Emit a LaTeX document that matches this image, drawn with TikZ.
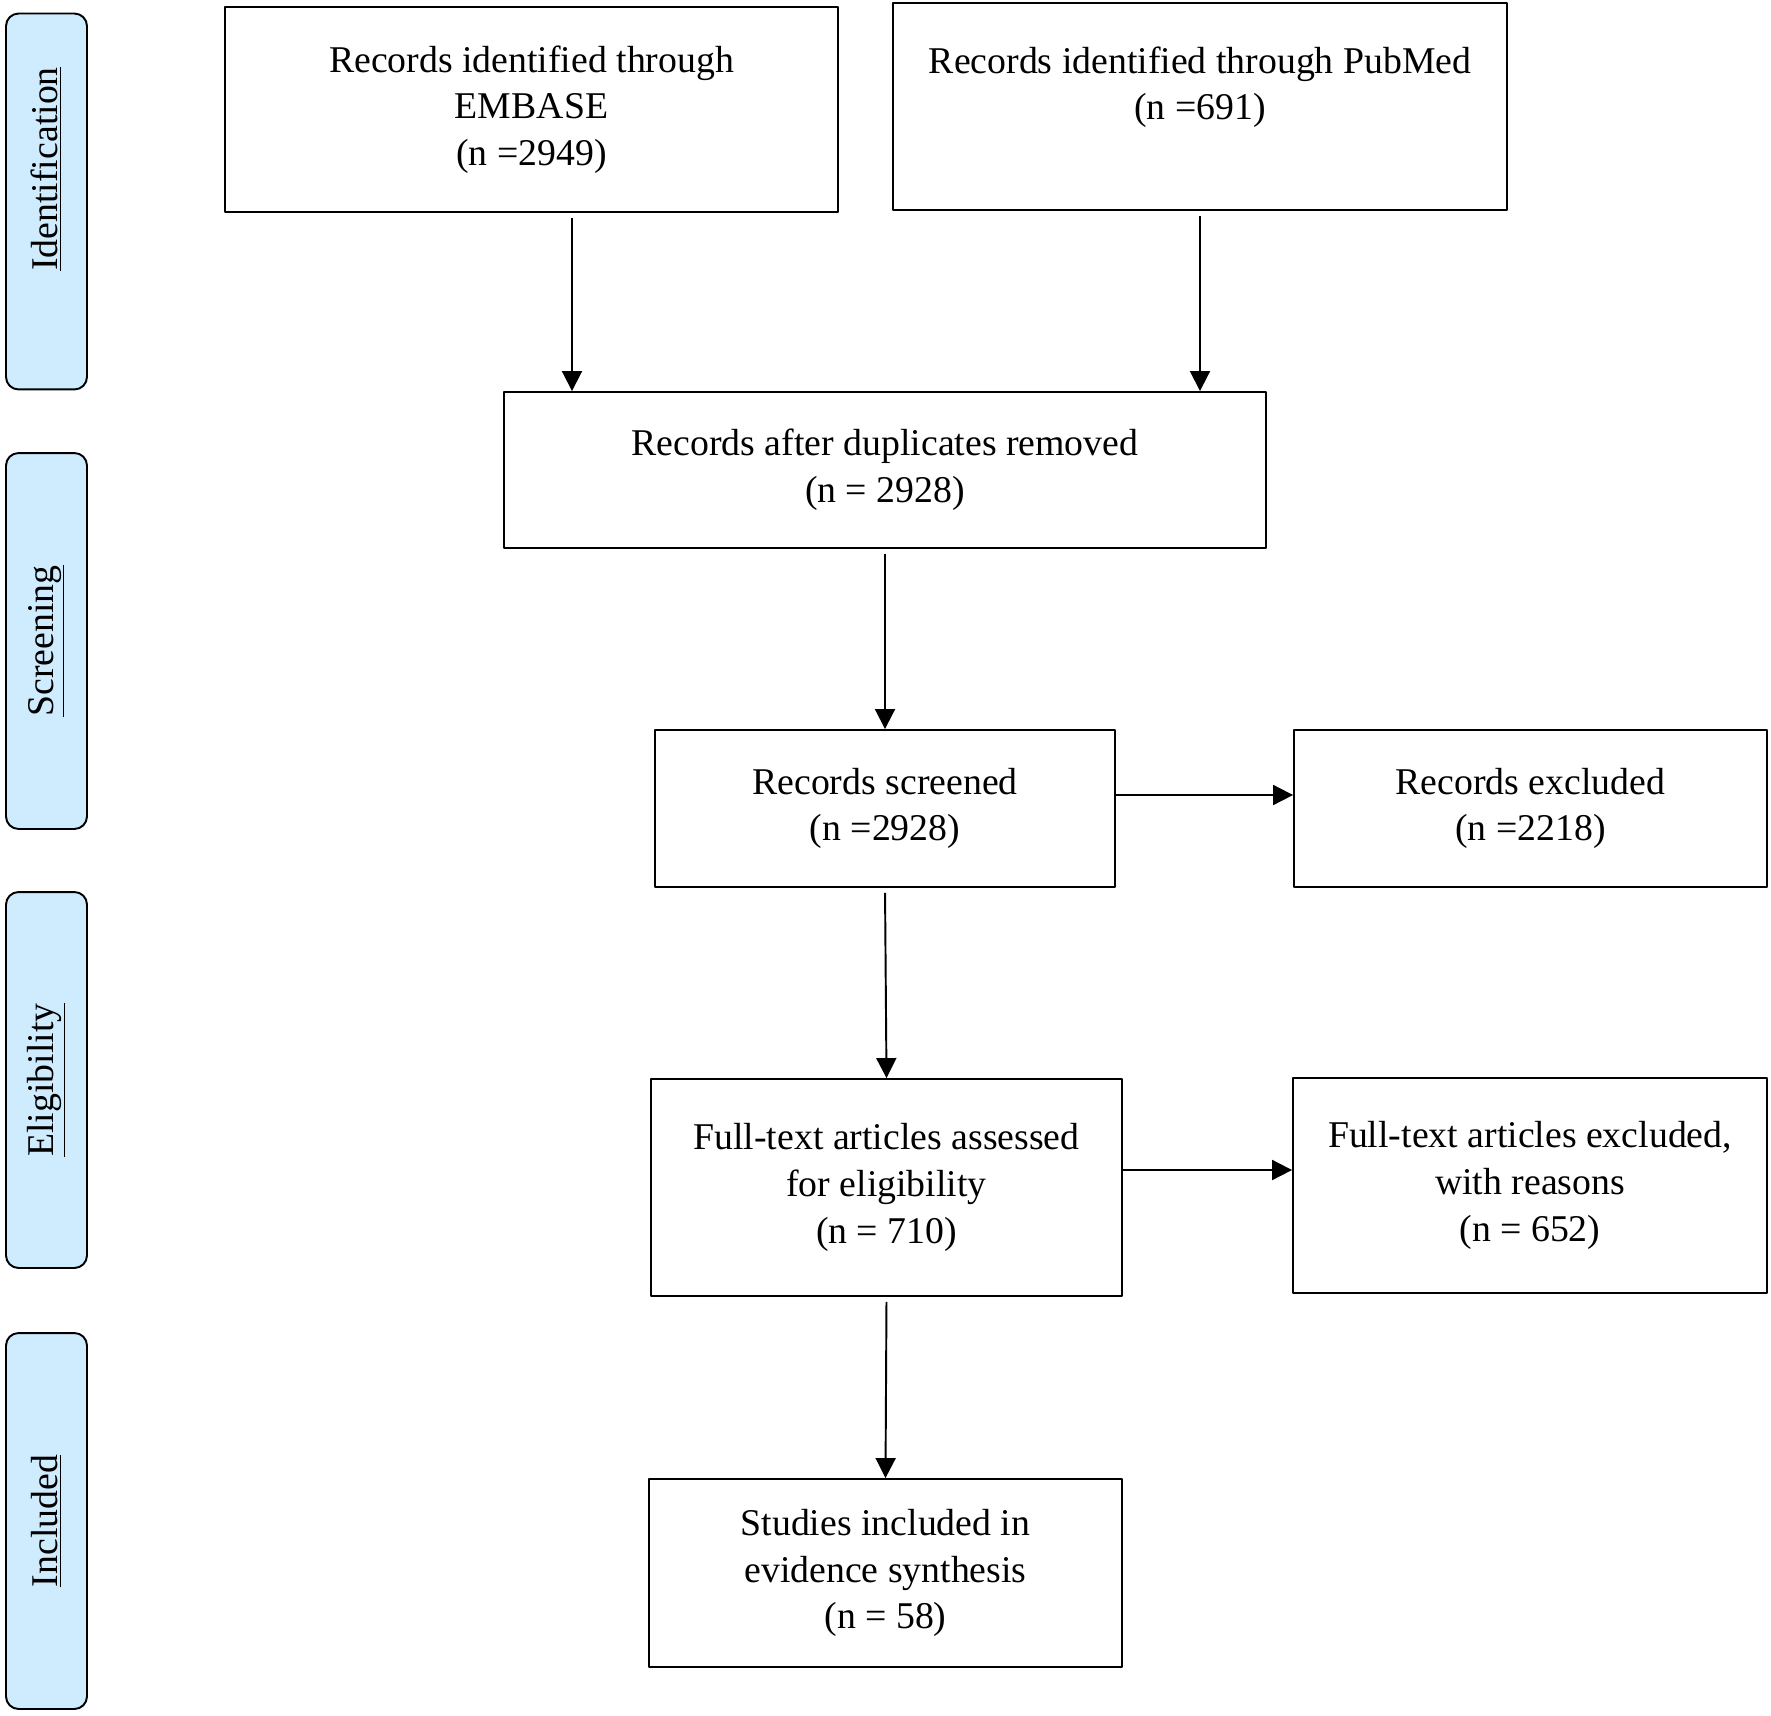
\documentclass[tikz,border=0pt]{standalone}
\usepackage{fontspec}
\setmainfont{Liberation Serif}
\usetikzlibrary{arrows.meta}
\definecolor{phase}{RGB}{207,236,255}
\begin{document}
\begin{tikzpicture}[x=0.02cm, y=-0.02cm, line join=round, >={Triangle[length=0.4cm,width=0.4cm]},
	box/.style={draw, line width=1.1pt, align=center, inner sep=0pt, font=\fontsize{21.5}{26.6}\selectfont},
	phasebox/.style={draw, line width=1.1pt, fill=phase, rounded corners=0.25cm, rotate=90, minimum width=7.52cm, minimum height=1.62cm, inner sep=0pt, font=\fontsize{21.5}{26.6}\selectfont},
	arr/.style={->, line width=1.1pt}]
	\useasboundingbox (0,0) rectangle (1771,1716);
	\foreach \y/\s/\n/\t in {201.5/1.3cm/ident/Identification, 641/0cm/scr/Screening, 1080/0cm/elig/Eligibility, 1521/0cm/incl/Included}
		\node[phasebox] (\n) at (46.5,\y) {\hspace*{\s}\underline{\t}};
	\node[box, minimum width=12.26cm, minimum height=4.1cm] (embase) at (531.5,109.5) {Records identified through\\EMBASE\\(n =2949)};
	\node[box, minimum width=12.28cm, minimum height=4.14cm] (pubmed) at (1200,106.5) {Records identified through PubMed\\(n =691)\\\mbox{}};
	\node[box, minimum width=15.24cm, minimum height=3.12cm] (dup) at (885,470) {Records after duplicates removed\\(n = 2928)};
	\node[box, minimum width=9.2cm, minimum height=3.14cm] (screened) at (885,808.5) {Records screened\\(n =2928)};
	\node[box, minimum width=9.46cm, minimum height=3.14cm] (excluded) at (1530.5,808.5) {Records excluded\\(n =2218)};
	\node[box, minimum width=9.42cm, minimum height=4.34cm] (fulltext) at (886.5,1187.5) {Full-text articles assessed\\for eligibility\\(n = 710)};
	\node[box, minimum width=9.48cm, minimum height=4.3cm] (fullexcl) at (1530,1185.5) {Full-text articles excluded,\\with reasons\\(n = 652)};
	\node[box, minimum width=9.46cm, minimum height=3.76cm] (included) at (885.5,1573) {Studies included in\\evidence synthesis\\(n = 58)};
	\draw[arr, shorten <=0.1cm] ([xshift=0.81cm]embase.south) -- ([xshift=0.81cm]embase.south |- dup.north);
	\draw[arr, shorten <=0.1cm] (pubmed.south) -- (pubmed.south |- dup.north);
	\draw[arr, shorten <=0.1cm] (dup.south) -- (screened.north);
	\draw[arr] ([yshift=0.27cm]screened.east) -- ([yshift=0.27cm]screened.east -| excluded.west);
	\draw[arr, shorten <=0.1cm] (screened.south) -- (fulltext.north);
	\draw[arr] ([yshift=0.35cm]fulltext.east) -- ([yshift=0.35cm]fulltext.east -| fullexcl.west);
	\draw[arr, shorten <=0.1cm] (fulltext.south) -- (included.north);
\end{tikzpicture}
\end{document}
